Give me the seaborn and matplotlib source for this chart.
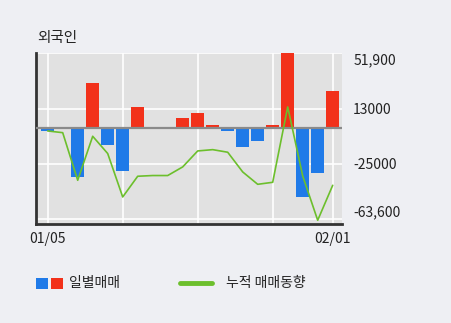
import matplotlib
matplotlib.use("Agg")
import matplotlib.pyplot as plt
import seaborn as sns
import pandas as pd
import numpy as np
from matplotlib.patches import Rectangle
from matplotlib.lines import Line2D

dates = ["01/05", "01/06", "01/07", "01/08", "01/11", "01/12", "01/13", "01/14",
         "01/15", "01/18", "01/19", "01/20", "01/21", "01/22", "01/25", "01/26",
         "01/27", "01/28", "01/29", "02/01"]
daily = [-2000, -400, -34000, 31300, -11800, -29900, 14100, 600, 0, 6950,
         10400, 1600, -2000, -13200, -9000, 1600, 52400, -48000, -31300, 25200]
cumulative = [-2300, -3500, -36600, -6000, -18000, -48200, -33800, -33300, -33300,
              -27300, -16200, -15300, -17100, -30800, -39400, -38000, 14400,
              -33600, -64400, -40100]
ytick_vals = [51900, 13000, -25000, -63600]
ytick_labels = ["51,900", "13000", "-25000", "-63,600"]
xtick_idx = [0, 19]

RED = "#f2311a"
BLUE = "#1f7ae8"
GREEN = "#6cbf2c"
FIG_BG = "#eeeff3"
AX_BG = "#e1e1e1"

sns.set_theme(style="white")
plt.rcParams['font.family'] = ['Noto Sans CJK KR', 'DejaVu Sans']

df = pd.DataFrame({
    "i": list(range(len(dates))),
    "v": daily,
    "s": ["pos" if v > 0 else "neg" for v in daily],
    "c": cumulative,
})

fig = plt.figure(figsize=(4.51, 3.23), dpi=100, facecolor=FIG_BG)
ax = fig.add_axes([36 / 451, 1 - 224 / 323, (342 - 36) / 451, (224 - 53) / 323])
ax.set_facecolor(AX_BG)

# gridlines
for v in ytick_vals:
    ax.axhline(v, color="white", lw=1.2, zorder=0.5)
for i in [0, 5, 10, 15, 19]:
    ax.axvline(i, color="white", lw=1.2, zorder=0.5)

sns.barplot(data=df, x="i", y="v", hue="s", palette={"pos": RED, "neg": BLUE},
            dodge=False, width=0.87, legend=False, ax=ax, zorder=2,
            saturation=1, native_scale=True, edgecolor="none", linewidth=0)
ax.axhline(0, color="#8a8a8a", lw=1.6, zorder=3)
sns.lineplot(data=df, x="i", y="c", color=GREEN, lw=1.2, ax=ax, zorder=4)

ax.set_xlim(-0.78, 19.62)
ax.set_ylim(-67000, 51900)
ax.set_xlabel("")
ax.set_ylabel("")

ax.set_xticks(xtick_idx)
ax.set_xticklabels([dates[i] for i in xtick_idx], fontsize=10, color="#222222")
ax.yaxis.tick_right()
ax.set_yticks(ytick_vals)
ax.set_yticklabels(ytick_labels, fontsize=10, color="#222222")
lbls = ax.get_yticklabels()
lbls[0].set_va("top")
lbls[-1].set_va("bottom")
ax.tick_params(axis="both", length=0)
ax.tick_params(axis="y", pad=8)
ax.tick_params(axis="x", pad=6)

for side in ["top", "right"]:
    ax.spines[side].set_visible(False)
ax.spines["left"].set_color("#333333")
ax.spines["left"].set_linewidth(2)
ax.spines["bottom"].set_color("#333333")
ax.spines["bottom"].set_linewidth(2)

fig.text(37 / 451, 1 - 38 / 323, "외국인", fontsize=10.5, color="#222222",
         va="center", ha="left")

# legend
def px(x, y):
    return x / 451, 1 - y / 323

fig.add_artist(Rectangle(px(36, 288.5), 11.7 / 451, 10.6 / 323, transform=fig.transFigure,
                         color=BLUE, lw=0))
fig.add_artist(Rectangle(px(51, 288.5), 11.7 / 451, 10.6 / 323, transform=fig.transFigure,
                         color=RED, lw=0))
x0, y0 = px(69, 283)
fig.text(x0, y0, "일별매매", fontsize=10, color="#222222", va="center", ha="left")
xa, ya = px(180, 283)
xb, _ = px(212, 283)
fig.add_artist(Line2D([xa, xb], [ya, ya], transform=fig.transFigure, color=GREEN, lw=3.5))
x1, _ = px(226, 283)
fig.text(x1, y0, "누적 매매동향", fontsize=10, color="#222222", va="center", ha="left")

fig.savefig("out.png", dpi=100, facecolor=FIG_BG)
